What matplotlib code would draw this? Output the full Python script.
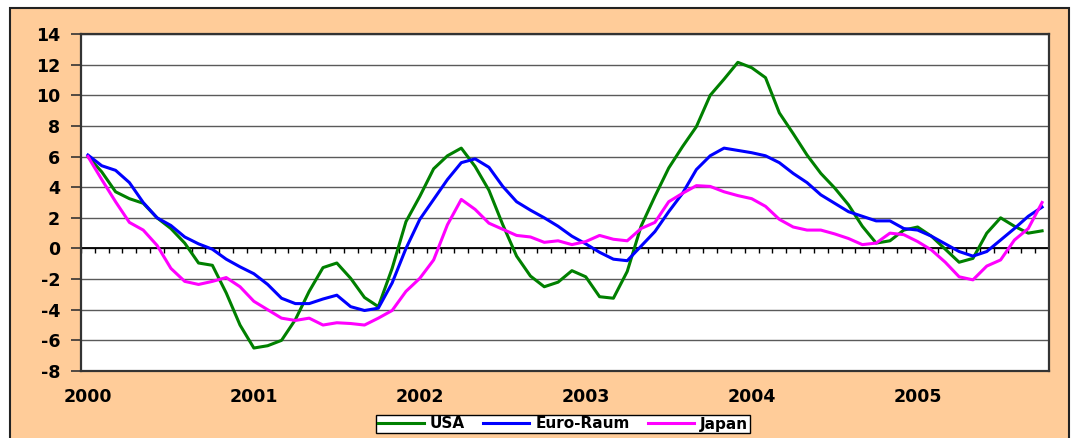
import numpy as np
import matplotlib.pyplot as plt
from matplotlib.patches import Rectangle

plt.rcParams['axes.unicode_minus'] = False

# monthly values, Jan 2000 .. Oct 2005
usa = [6.0, 5.0, 3.7, 3.25, 2.95, 2.0, 1.3, 0.35, -0.95, -1.1, -2.9, -5.0,
       -6.5, -6.35, -6.0, -4.65, -2.8, -1.25, -0.95, -1.95, -3.2, -3.8, -1.3, 1.75,
       3.4, 5.2, 6.05, 6.55, 5.35, 3.8, 1.55, -0.5, -1.8, -2.5, -2.2, -1.45,
       -1.85, -3.15, -3.25, -1.5, 1.45, 3.4, 5.25, 6.65, 7.95, 10.0, 11.05, 12.15,
       11.8, 11.15, 8.85, 7.5, 6.1, 4.9, 3.95, 2.85, 1.45, 0.35, 0.5, 1.2,
       1.4, 0.8, -0.05, -0.9, -0.65, 1.0, 2.0, 1.45, 1.0, 1.15]
euro = [6.1, 5.4, 5.1, 4.3, 3.0, 2.0, 1.5, 0.75, 0.3, -0.05, -0.7, -1.2,
        -1.65, -2.35, -3.25, -3.6, -3.6, -3.3, -3.05, -3.8, -4.05, -3.9, -2.25, 0.0,
        1.9, 3.2, 4.5, 5.6, 5.85, 5.3, 4.05, 3.05, 2.5, 2.0, 1.45, 0.8,
        0.3, -0.25, -0.7, -0.8, 0.15, 1.1, 2.4, 3.6, 5.15, 6.05, 6.55, 6.4,
        6.25, 6.05, 5.6, 4.9, 4.3, 3.5, 2.95, 2.4, 2.1, 1.8, 1.8, 1.3,
        1.2, 0.8, 0.3, -0.2, -0.5, -0.2, 0.55, 1.3, 2.1, 2.7]
japan = [6.0, 4.5, 3.05, 1.7, 1.2, 0.2, -1.3, -2.15, -2.35, -2.15, -1.9, -2.5,
         -3.45, -4.0, -4.55, -4.7, -4.55, -5.0, -4.85, -4.9, -5.0, -4.55, -4.05, -2.8,
         -1.95, -0.75, 1.55, 3.2, 2.55, 1.65, 1.25, 0.85, 0.75, 0.4, 0.5, 0.25,
         0.45, 0.85, 0.6, 0.5, 1.3, 1.7, 3.05, 3.6, 4.1, 4.05, 3.7, 3.45,
         3.25, 2.75, 1.9, 1.4, 1.2, 1.2, 0.95, 0.65, 0.25, 0.35, 1.0, 0.9,
         0.45, -0.1, -0.9, -1.85, -2.05, -1.15, -0.75, 0.55, 1.3, 3.0]
years = ['2000', '2001', '2002', '2003', '2004', '2005']
series_names = ['USA', 'Euro-Raum', 'Japan']
colors = ['#008000', '#0000FF', '#FF00FF']

x = np.arange(len(usa))

fig = plt.figure(figsize=(10.72, 4.38), dpi=100, facecolor='white')
# peach chart frame
fig.patches.append(Rectangle((10 / 1072, -0.02), 1059 / 1072, 0.02 + 430 / 438,
                             transform=fig.transFigure, facecolor='#FFCC99',
                             edgecolor='#222222', lw=1.5, zorder=-5))

ax = fig.add_axes([81 / 1072, 67 / 438, 968 / 1072, 337 / 438])
ax.set_facecolor('white')

for vals, name, c in zip([usa, euro, japan], series_names, colors):
    ax.plot(x, vals, color=c, lw=2.2, label=name, zorder=3)

ax.set_xlim(-0.5, len(x) - 0.5)
ax.set_ylim(-8, 14)
ax.set_yticks(range(-8, 15, 2))
ax.yaxis.grid(True, color='#5a5a5a', lw=1.0)
ax.set_axisbelow(True)

# zero axis with monthly tick marks
ax.axhline(0, color='black', lw=1.3, zorder=2)
ax.vlines(np.arange(len(x) + 1) - 0.5, -0.3, 0, color='black', lw=1, zorder=2)

ax.set_xticks(x[::12])
ax.set_xticklabels(years)
ax.tick_params(axis='x', length=0, pad=12)
ax.tick_params(axis='y', direction='out', length=7, width=1.2, color='#333333', pad=8)
for lab in ax.get_xticklabels() + ax.get_yticklabels():
    lab.set_fontweight('bold')
    lab.set_fontsize(12.5)

for sp in ax.spines.values():
    sp.set_color('#333333')
    sp.set_linewidth(1.6)

leg = fig.legend(loc='center', bbox_to_anchor=(563 / 1072, 1 - 424 / 438), ncol=3,
                 frameon=True, fancybox=False, edgecolor='black', framealpha=1,
                 prop={'weight': 'bold', 'size': 11}, handlelength=3.0,
                 borderpad=0.1, columnspacing=1.2, handletextpad=0.4)
leg.get_frame().set_linewidth(1.0)

fig.savefig('out.png', dpi=100, facecolor=fig.get_facecolor())
